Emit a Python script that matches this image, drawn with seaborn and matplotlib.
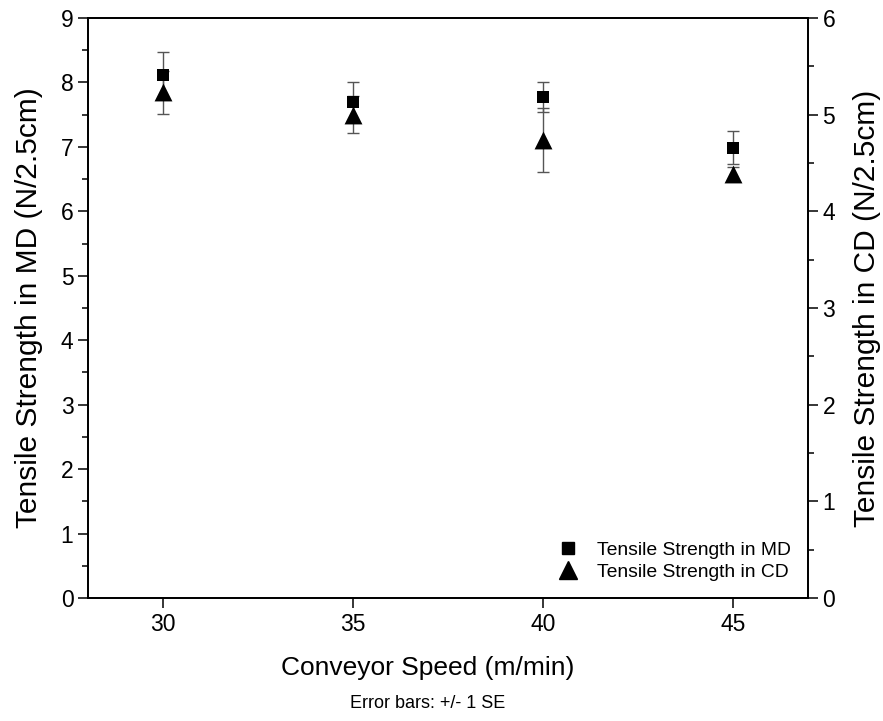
import numpy as np
import pandas as pd
import seaborn as sns
import matplotlib.pyplot as plt
from matplotlib.ticker import MultipleLocator
from matplotlib.lines import Line2D

# ---- data ----
speed = [30, 35, 40, 45]
md_strength = [8.12, 7.70, 7.77, 6.99]
md_se = [0.35, 0.30, 0.23, 0.26]
cd_strength = [5.23, 5.00, 4.74, 4.39]
cd_se = [0.22, 0.19, 0.33, 0.07]
md_label = "Tensile Strength in MD"
cd_label = "Tensile Strength in CD"

df = pd.DataFrame({"speed": speed, "md": md_strength, "md_se": md_se,
                   "cd": cd_strength, "cd_se": cd_se})

sns.set_style("ticks")
plt.rcParams['font.family'] = ['Liberation Sans', 'DejaVu Sans']
plt.rcParams['text.color'] = 'black'
plt.rcParams['axes.labelcolor'] = 'black'

fig = plt.figure(figsize=(8.83, 7.21), dpi=100)
ax = fig.add_axes([88 / 883, 1 - 598 / 721, 720 / 883, 580 / 721])
ax2 = ax.twinx()

ax.set_xlim(28.03, 46.97)
ax.set_ylim(0, 9)
ax2.set_ylim(0, 6)

ecol = "#555555"
# all error bars live on the lower axes so that every marker sits above them
ax.errorbar(df["speed"], df["md"], yerr=df["md_se"], fmt="none", ecolor=ecol,
            elinewidth=1.0, capsize=4.2, capthick=1.0, zorder=2)
ax.errorbar(df["speed"], df["cd"], yerr=df["cd_se"], fmt="none", ecolor=ecol,
            elinewidth=1.0, capsize=4.2, capthick=1.0, zorder=2,
            transform=ax2.transData)
sns.scatterplot(data=df, x="speed", y="md", marker="s", s=80, color="black",
                edgecolor="black", linewidth=0, ax=ax, zorder=3, legend=False)
sns.scatterplot(data=df, x="speed", y="cd", marker="^", s=165, color="black",
                edgecolor="black", linewidth=0, ax=ax2, zorder=3, legend=False)

ax.set_xlim(28.03, 46.97)
ax.set_ylim(0, 9)
ax2.set_ylim(0, 6)
ax.set_xticks([30, 35, 40, 45])
ax.yaxis.set_major_locator(MultipleLocator(1))
ax.yaxis.set_minor_locator(MultipleLocator(0.5))
ax2.yaxis.set_major_locator(MultipleLocator(1))
ax2.yaxis.set_minor_locator(MultipleLocator(0.5))

for a in (ax, ax2):
    a.tick_params(axis="both", which="major", direction="out", length=7,
                  width=1.1, labelsize=16.5, color="black", labelcolor="black")
    a.tick_params(axis="both", which="minor", direction="out", length=4,
                  width=1.1, color="black")
    for sp in a.spines.values():
        sp.set_visible(True)
        sp.set_linewidth(1.3)
        sp.set_color("black")

ax.set_xlabel("")
ax2.set_xlabel("")
ax.set_ylabel("Tensile Strength in MD (N/2.5cm)", fontsize=21.5, labelpad=13)
ax2.set_ylabel("Tensile Strength in CD (N/2.5cm)", fontsize=21.5, labelpad=13)

fig.text(428 / 883, 1 - 668 / 721, "Conveyor Speed (m/min)", fontsize=19,
         ha="center", va="center")
fig.text(428 / 883, 1 - 703 / 721, "Error bars: +/- 1 SE", fontsize=13,
         ha="center", va="center")

handles = [Line2D([], [], marker="s", color="black", linestyle="none", markersize=8.5),
           Line2D([], [], marker="^", color="black", linestyle="none", markersize=13)]
ax2.legend(handles, [md_label, cd_label], loc="lower right", frameon=False,
           fontsize=13.9, handlelength=1.4, handletextpad=0.8, labelspacing=0.2,
           borderaxespad=0.5)

fig.savefig("out.png", dpi=100)
